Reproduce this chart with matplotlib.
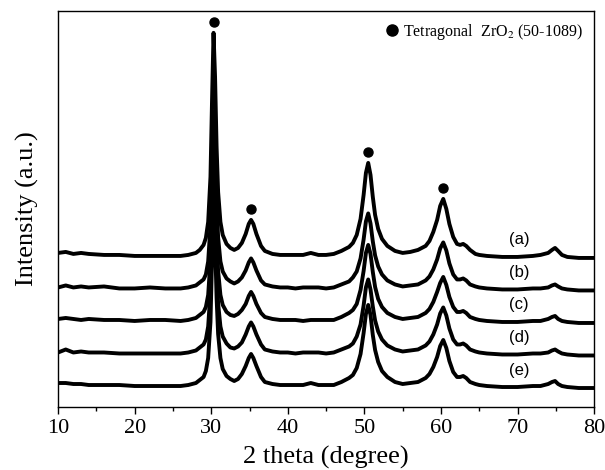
import matplotlib
matplotlib.use("Agg")
import matplotlib.pyplot as plt
from matplotlib.ticker import MultipleLocator

# 2-theta grid (degree), denser around the reflections
two_theta = [10, 11, 12, 13, 14, 16, 18, 20, 22, 24, 26, 27, 28, 28.5,
             29.0, 29.3, 29.6, 29.9, 30.1, 30.3, 30.5, 30.7, 30.9, 31.2, 31.5, 32.0, 32.5,
             33.0, 33.5, 34.0, 34.5, 34.9, 35.2, 35.5, 35.9, 36.5, 37,
             38, 39, 40, 41, 42, 43, 44, 45, 46,
             47, 48, 48.5, 49.0, 49.5, 49.9, 50.2, 50.5, 50.8, 51.1, 51.4, 51.8, 52.3, 53, 54,
             55, 56, 57, 58, 58.5, 59.0, 59.5, 59.9, 60.3, 60.7, 61.1, 61.6, 62.1, 62.5,
             62.9, 63.3, 63.8, 64.5, 65, 66, 68, 70, 72, 73,
             74, 74.5, 74.9, 75.3, 75.8, 76.5, 78, 80]

# intensities (a.u.), each relative to its own trace
int_a = [24, 25, 23, 24, 23, 22, 22, 21, 21, 21, 21, 22, 24, 27,
         32, 39, 55, 100, 175, 244, 200, 130, 85, 55, 42, 33, 29,
         27, 29, 34, 43, 53, 57, 53, 43, 31, 26,
         23, 22, 22, 22, 22, 24, 22, 22, 23,
         26, 30, 34, 42, 58, 82, 104, 114, 102, 80, 62, 48, 38, 31, 26,
         24, 25, 27, 31, 36, 45, 57, 71, 78, 68, 53, 40, 33, 32,
         33, 31, 27, 23, 22, 21, 20, 20, 21, 22,
         24, 27, 29, 26, 22, 20, 19, 19]
int_b = [22, 24, 22, 23, 22, 23, 21, 21, 22, 21, 21, 22, 24, 27,
         30, 35, 48, 84, 143, 198, 163, 107, 72, 48, 38, 31, 28,
         26, 28, 32, 39, 47, 51, 47, 39, 29, 25,
         23, 22, 22, 21, 22, 22, 22, 21, 22,
         25, 28, 32, 38, 51, 70, 88, 96, 86, 68, 54, 43, 35, 29, 25,
         23, 24, 25, 29, 33, 40, 50, 61, 67, 59, 46, 35, 30, 30,
         31, 29, 25, 23, 22, 21, 20, 20, 21, 21,
         22, 24, 25, 23, 21, 20, 19, 19]
int_c = [23, 24, 23, 22, 23, 22, 22, 21, 22, 22, 21, 22, 24, 27,
         30, 35, 47, 82, 140, 192, 159, 105, 71, 47, 37, 30, 27,
         26, 28, 32, 38, 46, 50, 46, 38, 29, 25,
         23, 22, 22, 22, 21, 22, 22, 22, 22,
         25, 29, 32, 38, 52, 71, 89, 97, 88, 70, 55, 43, 35, 29, 25,
         23, 24, 25, 29, 33, 40, 50, 59, 65, 57, 45, 35, 30, 30,
         31, 29, 25, 23, 22, 21, 20, 20, 21, 21,
         23, 25, 26, 23, 21, 20, 19, 19]
int_d = [22, 25, 22, 23, 22, 22, 21, 21, 21, 21, 21, 22, 24, 27,
         30, 35, 48, 83, 141, 195, 161, 106, 71, 48, 38, 31, 27,
         26, 28, 32, 40, 48, 52, 48, 40, 30, 25,
         23, 22, 22, 21, 22, 22, 22, 21, 22,
         25, 28, 31, 38, 50, 69, 87, 95, 85, 68, 54, 43, 35, 29, 25,
         23, 24, 25, 29, 33, 40, 50, 61, 67, 59, 46, 35, 30, 30,
         31, 29, 25, 23, 22, 21, 20, 20, 21, 21,
         22, 24, 25, 23, 21, 20, 19, 19]
int_e = [24, 24, 23, 23, 22, 22, 22, 21, 21, 21, 21, 22, 24, 27,
         30, 36, 49, 85, 146, 202, 166, 109, 73, 49, 38, 31, 28,
         26, 28, 33, 41, 49, 53, 49, 41, 30, 25,
         23, 22, 22, 22, 22, 24, 22, 22, 22,
         25, 29, 32, 39, 53, 74, 93, 102, 92, 72, 57, 45, 36, 30, 25,
         23, 24, 25, 29, 33, 40, 50, 61, 67, 59, 46, 35, 30, 30,
         31, 29, 25, 23, 22, 21, 20, 20, 21, 21,
         23, 25, 26, 23, 21, 20, 19, 19]

samples = ["(a)", "(b)", "(c)", "(d)", "(e)"]
traces = [int_a, int_b, int_c, int_d, int_e]
peaks_t = [30.3, 35.2, 50.5, 60.3]   # tetragonal ZrO2 reflections

plt.rcParams["font.family"] = ["Liberation Serif", "DejaVu Serif"]
plt.rcParams["mathtext.fontset"] = "stix"

fig = plt.figure(figsize=(6.05, 4.70), dpi=100)
ax = fig.add_axes([0.096, 0.134, 0.886, 0.843])

step = 32.5
n = len(traces)
for i, (lab, y) in enumerate(zip(samples, traces)):
    off = (n - 1 - i) * step
    ax.plot(two_theta, [v + off for v in y], color="black", lw=2.8,
            solid_joinstyle="round")
    ax.text(70.2, off + 37, lab, fontfamily=["Liberation Sans", "DejaVu Sans"],
            fontsize=12, ha="center", va="center")

# markers above the top trace
top_off = (n - 1) * step
for p in peaks_t:
    k = min(range(len(two_theta)), key=lambda j: abs(two_theta[j] - p))
    ax.plot(p, int_a[k] + top_off + 11, "o", color="black", ms=6.5)

ax.plot([], [], "o", color="black", ms=8,
        label="Tetragonal  ZrO$_2$ (50-1089)")
ax.legend(loc="upper right", frameon=False, fontsize=11.5,
          handletextpad=0.1, borderaxespad=0.3, handlelength=1.2)

ax.set_xlim(10, 80)
ax.set_ylim(0, 396)
ax.xaxis.set_major_locator(MultipleLocator(10))
ax.xaxis.set_minor_locator(MultipleLocator(5))
ax.tick_params(axis="x", which="major", direction="out", length=5, width=1,
               labelsize=16, top=False)
ax.tick_params(axis="x", which="minor", direction="out", length=3, width=1,
               top=False)
ax.set_yticks([])
for s in ax.spines.values():
    s.set_linewidth(1.0)

ax.set_xlabel("2 theta (degree)", fontsize=19, labelpad=6)
ax.set_ylabel("Intensity (a.u.)", fontsize=19, labelpad=14)

fig.savefig("out.png", dpi=100)
